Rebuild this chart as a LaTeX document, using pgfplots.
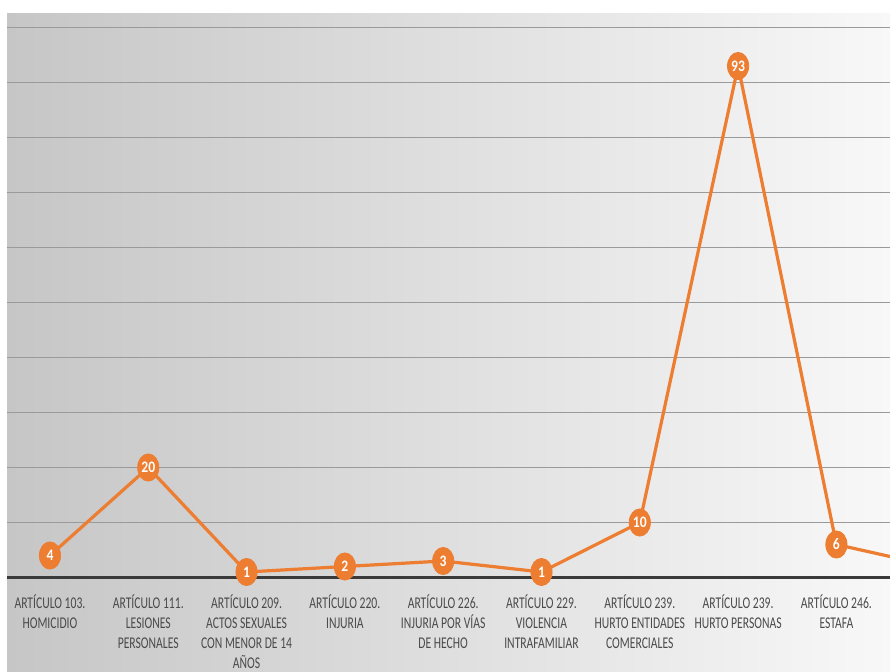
\documentclass[border=0pt]{standalone}
\usepackage{fontspec}
\setmainfont{Carlito}
\newfontfamily\condfont[FakeStretch=0.71]{Carlito}
\newfontfamily\numfont[FakeStretch=0.85]{Carlito}
\usepackage{pgfplots}
\pgfplotsset{compat=1.18}
\usetikzlibrary{backgrounds,calc}
\definecolor{lineor}{HTML}{ED7D31}
\definecolor{labgray}{HTML}{4A4A4A}
\definecolor{bgleft}{HTML}{C6C6C6}
\definecolor{bgright}{HTML}{F8F8F8}
\definecolor{gridc}{HTML}{9A9A9A}
\definecolor{axisc}{HTML}{3A3A3A}
\begin{document}
\begin{tikzpicture}
\begin{axis}[
  name=main,
  scale only axis, width=441.5pt, height=275pt,
  xmin=-0.437, xmax=8.545, ymin=0, ymax=100,
  axis line style={draw=none},
  xtick={0,...,8},
  xticklabels={
    {ARTÍCULO 103.\\HOMICIDIO},
    {ARTÍCULO 111.\\LESIONES\\PERSONALES},
    {ARTÍCULO 209.\\ACTOS SEXUALES\\CON MENOR DE 14\\AÑOS},
    {ARTÍCULO 220.\\INJURIA},
    {ARTÍCULO 226.\\INJURIA POR VÍAS\\DE HECHO},
    {ARTÍCULO 229.\\VIOLENCIA\\INTRAFAMILIAR},
    {ARTÍCULO 239.\\HURTO ENTIDADES\\COMERCIALES},
    {ARTÍCULO 239.\\HURTO PERSONAS},
    {ARTÍCULO 246.\\ESTAFA}},
  xticklabel style={font=\condfont\fontsize{8.2}{10}\selectfont, text=labgray, align=center, anchor=north, yshift=-5pt},
  major tick length=0pt,
  ytick={10,20,...,100}, yticklabels={},
  ymajorgrids, grid style={color=gridc, line width=0.6pt},
  extra y ticks={0}, extra y tick labels={},
  extra y tick style={grid style={color=axisc, line width=1.5pt}},
  clip=true,
  /pgf/number format/assume math mode=true,
]
\addplot[color=lineor, line width=1.6pt, mark=*, mark size=6.8pt,
  mark options={xscale=0.78, fill=lineor, draw=lineor, line width=0.4pt},
  nodes near coords,
  every node near coord/.append style={anchor=center, text=white, font=\numfont\bfseries\fontsize{8}{9}\selectfont, inner sep=0pt}]
coordinates {(0,4)(1,20)(2,1)(3,2)(4,3)(5,1)(6,10)(7,93)(8,6)(9,2)};
\end{axis}
\coordinate (O) at ($(main.south west)+(-3.5pt,-46.75pt)$);
\begin{pgfonlayer}{background}
\fill[white] (O) rectangle ($(O)+(445pt,335.5pt)$);
\shade[left color=bgleft, right color=bgright] ($(O)+(3.5pt,0)$) rectangle ($(O)+(445pt,328.5pt)$);
\end{pgfonlayer}
\pgfresetboundingbox
\useasboundingbox (O) rectangle ($(O)+(445pt,335.5pt)$);
\end{tikzpicture}
\end{document}
